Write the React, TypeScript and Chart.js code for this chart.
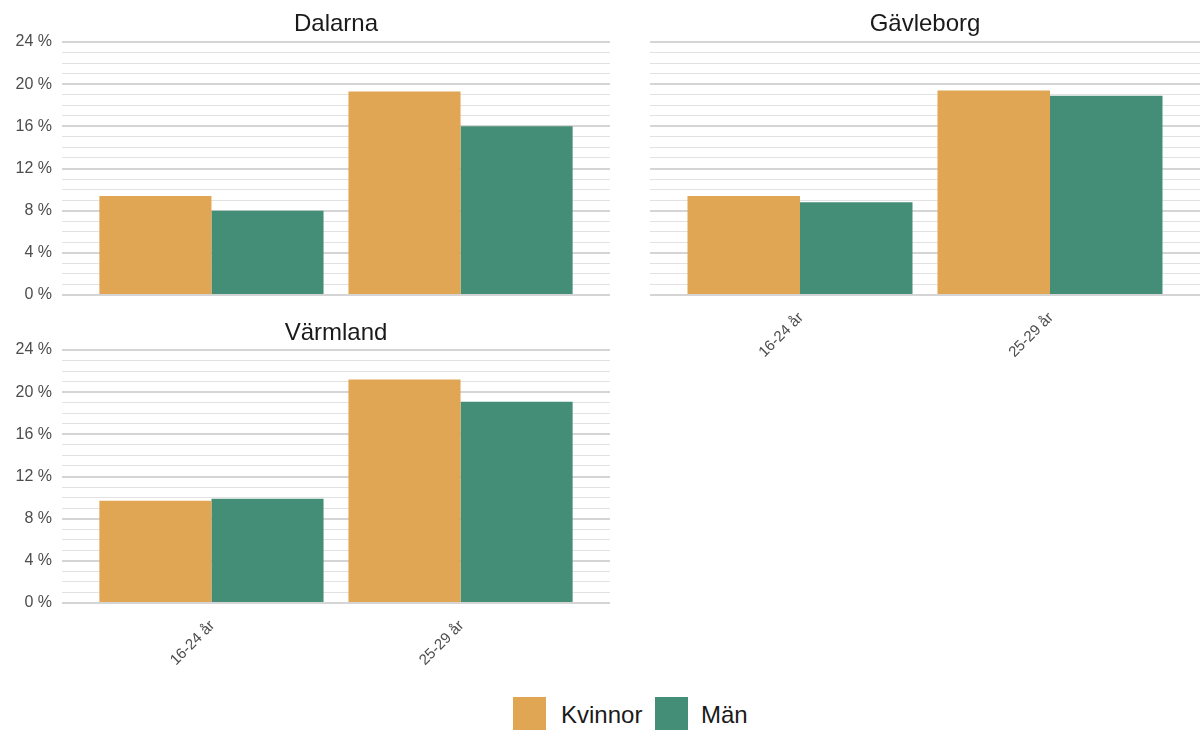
import React, { useEffect, useRef } from 'react';
import { Chart, registerables } from 'chart.js';

Chart.register(...registerables);

const FONT = '"Liberation Sans", Arial, sans-serif';

const categories = ['16-24 år', '25-29 år'];
const seriesNames = ['Kvinnor', 'Män'];
const seriesColors = ['#e1a654', '#448e77'];

const dalarnaKvinnor = [9.4, 19.3];
const dalarnaMan = [8.0, 16.0];
const gavleborgKvinnor = [9.4, 19.4];
const gavleborgMan = [8.8, 18.9];
const varmlandKvinnor = [9.7, 21.2];
const varmlandMan = [9.9, 19.1];

const yTickLabels = [0, 4, 8, 12, 16, 20, 24];

type PanelCfg = {
  title: string;
  values: number[][];
  left: number;
  top: number;
  width: number;
  height: number;
  yWidth: number;
  xHeight: number;
  padRight: number;
  showX: boolean;
  showY: boolean;
  titleTop: number;
  titleBottom: number;
};

const panels: PanelCfg[] = [
  { title: 'Dalarna', values: [dalarnaKvinnor, dalarnaMan], left: 0, top: 0, width: 615, height: 320, yWidth: 62, xHeight: 25, padRight: 5, showX: false, showY: true, titleTop: 10, titleBottom: 3.2 },
  { title: 'Gävleborg', values: [gavleborgKvinnor, gavleborgMan], left: 615, top: 0, width: 586, height: 380, yWidth: 35, xHeight: 85, padRight: 1, showX: true, showY: false, titleTop: 10, titleBottom: 3.2 },
  { title: 'Värmland', values: [varmlandKvinnor, varmlandMan], left: 0, top: 308, width: 615, height: 380, yWidth: 62, xHeight: 85, padRight: 5, showX: true, showY: true, titleTop: 10.8, titleBottom: 2.4 },
];

function Panel({ cfg }: { cfg: PanelCfg }) {
  const ref = useRef<HTMLCanvasElement>(null);
  useEffect(() => {
    const isMajor = (v: any) => yTickLabels.includes(v);
    const chart = new Chart(ref.current as HTMLCanvasElement, {
      type: 'bar',
      data: {
        datasets: seriesNames.map((name, si) => ({
          label: name,
          data: categories.map((_, ci) => ({ x: ci + 1, y: cfg.values[si][ci] })),
          backgroundColor: seriesColors[si],
          borderWidth: 0,
          categoryPercentage: 0.9,
          barPercentage: 1,
        })),
      },
      options: {
        responsive: false,
        animation: false,
        events: [],
        layout: { padding: { left: 0, right: cfg.padRight, top: 0, bottom: 0 } },
        plugins: {
          legend: { display: false },
          tooltip: { enabled: false },
          title: {
            display: true,
            text: cfg.title,
            fullSize: false,
            color: '#1a1a1a',
            font: { size: 24, family: FONT, weight: 'normal' },
            padding: { top: cfg.titleTop, bottom: cfg.titleBottom },
          },
        },
        scales: {
          x: {
            type: 'linear',
            offset: false,
            min: 0.4,
            max: 2.6,
            afterBuildTicks: (s: any) => {
              s.ticks = categories.map((_, i) => ({ value: i + 1 }));
            },
            afterFit: (s: any) => {
              s.height = cfg.xHeight;
            },
            grid: { display: false, drawTicks: false, offset: false },
            border: { display: false },
            ticks: {
              display: true,
              minRotation: 45,
              maxRotation: 45,
              autoSkip: false,
              padding: 14,
              labelOffset: 1,
              color: '#4d4d4d',
              font: { size: 15, family: FONT },
              callback: (v: any) => (cfg.showX ? categories[Math.round(Number(v)) - 1] ?? '' : ''),
            },
          },
          y: {
            min: 0,
            max: 24,
            afterFit: (s: any) => {
              s.width = cfg.yWidth;
            },
            ticks: {
              display: cfg.showY,
              stepSize: 1,
              autoSkip: false,
              padding: 10,
              color: '#4d4d4d',
              font: { size: 16, family: FONT },
              callback: (v: any) => (isMajor(v) ? `${v} %` : ''),
            },
            grid: {
              drawTicks: false,
              color: (c: any) => (isMajor(c.tick?.value) ? '#d5d5d5' : '#e2e2e2'),
              lineWidth: (c: any) => (isMajor(c.tick?.value) ? 2 : 1),
            },
            border: { display: false },
          },
        },
      } as any,
    });
    return () => chart.destroy();
  }, []);
  return (
    <canvas
      ref={ref}
      width={cfg.width}
      height={cfg.height}
      style={{ position: 'absolute', left: cfg.left, top: cfg.top, width: cfg.width, height: cfg.height }}
    />
  );
}

export default function App() {
  const legendText = { position: 'absolute' as const, top: 698, height: 33, display: 'flex', alignItems: 'center', fontFamily: FONT, fontSize: 24, color: '#1a1a1a' };
  return (
    <div style={{ position: 'absolute', left: 0, top: 0, width: 1201, height: 731, background: '#ffffff', overflow: 'hidden' }}>
      {panels.map((p) => (
        <Panel key={p.title} cfg={p} />
      ))}
      <div style={{ position: 'absolute', left: 513, top: 697, width: 33, height: 33, background: seriesColors[0] }} />
      <div style={{ ...legendText, left: 561 }}>{seriesNames[0]}</div>
      <div style={{ position: 'absolute', left: 655, top: 697, width: 33, height: 33, background: seriesColors[1] }} />
      <div style={{ ...legendText, left: 701 }}>{seriesNames[1]}</div>
    </div>
  );
}
